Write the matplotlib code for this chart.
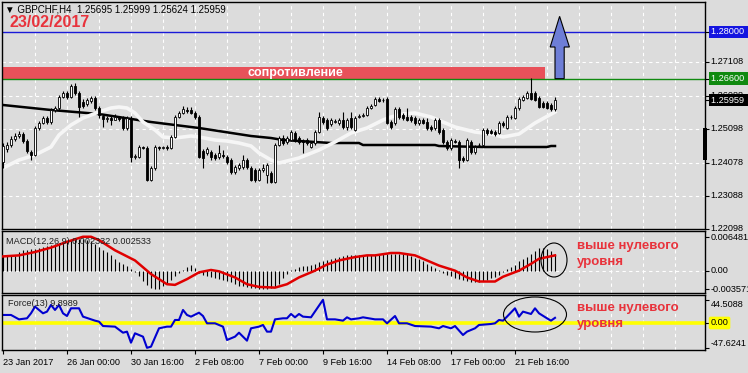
import matplotlib
matplotlib.use("Agg")
import matplotlib.pyplot as plt
from matplotlib.patches import Rectangle, Ellipse, Polygon
import numpy as np

plt.rcParams['font.family'] = ['Liberation Sans', 'DejaVu Sans']

W, H = 748, 373
BG = "#dcdcdc"
RED = "#e8333c"

# ---------------- data ----------------
opens = [1.2410, 1.2449, 1.2461, 1.2479, 1.2488, 1.2494, 1.2473, 1.2440, 1.2431, 1.2512,
         1.2527, 1.2542, 1.2530, 1.2566, 1.2572, 1.2605, 1.2617, 1.2605, 1.2638, 1.2617,
         1.2590, 1.2584, 1.2593, 1.2602, 1.2572, 1.2548, 1.2539, 1.2542, 1.2536, 1.2545,
         1.2542, 1.2512, 1.2542, 1.2425, 1.2425, 1.2455, 1.2452, 1.2356, 1.2392, 1.2455,
         1.2452, 1.2455, 1.2452, 1.2485, 1.2545, 1.2557, 1.2566, 1.2566, 1.2557, 1.2545,
         1.2443, 1.2437, 1.2440, 1.2431, 1.2425, 1.2431, 1.2425, 1.2416, 1.2380, 1.2392,
         1.2395, 1.2416, 1.2392, 1.2386, 1.2356, 1.2386, 1.2371, 1.2377, 1.2350, 1.2461,
         1.2482, 1.2470, 1.2476, 1.2497, 1.2482, 1.2473, 1.2476, 1.2455, 1.2467, 1.2500,
         1.2542, 1.2536, 1.2524, 1.2530, 1.2527, 1.2536, 1.2515, 1.2542, 1.2506, 1.2545,
         1.2548, 1.2551, 1.2572, 1.2581, 1.2599, 1.2596, 1.2599, 1.2530, 1.2527, 1.2569,
         1.2551, 1.2545, 1.2545, 1.2542, 1.2527, 1.2536, 1.2530, 1.2515, 1.2512, 1.2536,
         1.2506, 1.2470, 1.2452, 1.2473, 1.2470, 1.2422, 1.2416, 1.2470, 1.2440, 1.2461,
         1.2461, 1.2506, 1.2503, 1.2500, 1.2497, 1.2527, 1.2512, 1.2545, 1.2542, 1.2572,
         1.2596, 1.2602, 1.2617, 1.2617, 1.2602, 1.2587, 1.2587, 1.2581, 1.2569]
highs = [1.2467, 1.2470, 1.2488, 1.2497, 1.2503, 1.2500, 1.2479, 1.2446, 1.2518, 1.2533,
         1.2548, 1.2548, 1.2572, 1.2578, 1.2611, 1.2623, 1.2623, 1.2644, 1.2647, 1.2623,
         1.2599, 1.2602, 1.2608, 1.2608, 1.2578, 1.2554, 1.2548, 1.2551, 1.2554, 1.2548,
         1.2548, 1.2548, 1.2548, 1.2434, 1.2461, 1.2458, 1.2458, 1.2398, 1.2461, 1.2458,
         1.2458, 1.2461, 1.2491, 1.2551, 1.2563, 1.2578, 1.2575, 1.2575, 1.2563, 1.2551,
         1.2449, 1.2455, 1.2446, 1.2437, 1.2461, 1.2446, 1.2431, 1.2422, 1.2401, 1.2407,
         1.2431, 1.2422, 1.2398, 1.2392, 1.2392, 1.2404, 1.2407, 1.2383, 1.2467, 1.2488,
         1.2491, 1.2488, 1.2506, 1.2503, 1.2488, 1.2479, 1.2482, 1.2473, 1.2506, 1.2560,
         1.2548, 1.2542, 1.2542, 1.2539, 1.2542, 1.2560, 1.2542, 1.2560, 1.2548, 1.2554,
         1.2557, 1.2578, 1.2584, 1.2605, 1.2605, 1.2602, 1.2605, 1.2536, 1.2575, 1.2575,
         1.2557, 1.2572, 1.2551, 1.2548, 1.2542, 1.2542, 1.2542, 1.2521, 1.2542, 1.2542,
         1.2512, 1.2476, 1.2482, 1.2479, 1.2476, 1.2428, 1.2482, 1.2476, 1.2461, 1.2467,
         1.2512, 1.2512, 1.2509, 1.2506, 1.2533, 1.2533, 1.2551, 1.2551, 1.2578, 1.2605,
         1.2611, 1.2623, 1.2662, 1.2623, 1.2608, 1.2593, 1.2593, 1.2587, 1.2605]
lows = [1.2392, 1.2440, 1.2455, 1.2473, 1.2482, 1.2467, 1.2437, 1.2416, 1.2428, 1.2506,
        1.2524, 1.2524, 1.2524, 1.2560, 1.2566, 1.2602, 1.2599, 1.2602, 1.2611, 1.2545,
        1.2572, 1.2578, 1.2587, 1.2566, 1.2542, 1.2515, 1.2530, 1.2521, 1.2536, 1.2533,
        1.2506, 1.2506, 1.2410, 1.2419, 1.2422, 1.2449, 1.2353, 1.2353, 1.2386, 1.2446,
        1.2449, 1.2446, 1.2449, 1.2482, 1.2542, 1.2554, 1.2557, 1.2554, 1.2539, 1.2422,
        1.2392, 1.2431, 1.2416, 1.2416, 1.2419, 1.2422, 1.2404, 1.2374, 1.2374, 1.2386,
        1.2389, 1.2389, 1.2353, 1.2350, 1.2353, 1.2380, 1.2347, 1.2347, 1.2347, 1.2458,
        1.2461, 1.2464, 1.2473, 1.2470, 1.2464, 1.2437, 1.2461, 1.2452, 1.2461, 1.2497,
        1.2524, 1.2506, 1.2518, 1.2527, 1.2521, 1.2509, 1.2506, 1.2509, 1.2503, 1.2542,
        1.2545, 1.2548, 1.2569, 1.2578, 1.2590, 1.2590, 1.2524, 1.2509, 1.2521, 1.2539,
        1.2536, 1.2533, 1.2530, 1.2521, 1.2521, 1.2524, 1.2506, 1.2503, 1.2506, 1.2494,
        1.2464, 1.2446, 1.2446, 1.2467, 1.2392, 1.2410, 1.2413, 1.2434, 1.2434, 1.2455,
        1.2458, 1.2491, 1.2494, 1.2488, 1.2494, 1.2515, 1.2509, 1.2539, 1.2539, 1.2566,
        1.2593, 1.2599, 1.2596, 1.2593, 1.2572, 1.2572, 1.2569, 1.2563, 1.2563]
closes = [1.2458, 1.2461, 1.2479, 1.2488, 1.2494, 1.2473, 1.2443, 1.2431, 1.2512, 1.2527,
          1.2542, 1.2530, 1.2566, 1.2572, 1.2605, 1.2617, 1.2605, 1.2638, 1.2617, 1.2575,
          1.2578, 1.2596, 1.2602, 1.2572, 1.2551, 1.2539, 1.2542, 1.2536, 1.2545, 1.2539,
          1.2512, 1.2542, 1.2425, 1.2428, 1.2455, 1.2452, 1.2356, 1.2392, 1.2455, 1.2452,
          1.2455, 1.2452, 1.2485, 1.2545, 1.2557, 1.2569, 1.2563, 1.2557, 1.2545, 1.2425,
          1.2422, 1.2449, 1.2425, 1.2422, 1.2437, 1.2428, 1.2410, 1.2380, 1.2395, 1.2401,
          1.2416, 1.2395, 1.2356, 1.2356, 1.2386, 1.2392, 1.2401, 1.2350, 1.2461, 1.2482,
          1.2467, 1.2482, 1.2500, 1.2476, 1.2470, 1.2470, 1.2467, 1.2467, 1.2500, 1.2545,
          1.2530, 1.2512, 1.2536, 1.2533, 1.2536, 1.2515, 1.2536, 1.2515, 1.2542, 1.2548,
          1.2551, 1.2572, 1.2578, 1.2599, 1.2593, 1.2596, 1.2527, 1.2515, 1.2569, 1.2545,
          1.2542, 1.2536, 1.2536, 1.2527, 1.2536, 1.2527, 1.2512, 1.2509, 1.2536, 1.2500,
          1.2470, 1.2452, 1.2476, 1.2470, 1.2416, 1.2416, 1.2476, 1.2440, 1.2455, 1.2461,
          1.2506, 1.2497, 1.2497, 1.2494, 1.2527, 1.2521, 1.2545, 1.2545, 1.2572, 1.2599,
          1.2605, 1.2617, 1.2599, 1.2596, 1.2575, 1.2575, 1.2572, 1.2569, 1.25959]

fast_ma_bars = [0, 4, 8, 12, 14, 17, 20, 24, 27, 29, 31, 33, 35, 38, 40, 43, 47, 49, 53, 56,
                59, 62, 64, 67, 69, 74, 79, 83, 87, 91, 95, 97, 100, 103, 107, 110, 113, 118,
                122, 125, 129, 133, 138]
fast_ma = [1.2392, 1.2416, 1.2431, 1.2455, 1.2491, 1.2521, 1.2542, 1.2560, 1.2572, 1.2575,
           1.2572, 1.2557, 1.2530, 1.2506, 1.2485, 1.2482, 1.2488, 1.2485, 1.2476, 1.2473,
           1.2467, 1.2458, 1.2437, 1.2416, 1.2407, 1.2422, 1.2446, 1.2470, 1.2497, 1.2512,
           1.2536, 1.2545, 1.2554, 1.2557, 1.2545, 1.2530, 1.2515, 1.2500, 1.2494, 1.2485,
           1.2494, 1.2527, 1.2560]
slow_ma_bars = [0, 12, 24, 37, 49, 62, 67, 70, 82, 89, 90, 108, 109, 120, 136, 137, 138]
slow_ma = [1.2581, 1.2566, 1.2554, 1.2530, 1.2512, 1.2488, 1.2482, 1.2476, 1.2467, 1.2467,
           1.2461, 1.2461, 1.2458, 1.2455, 1.2455, 1.2458, 1.2458]

macd_main = [0.00275, 0.00275, 0.00282, 0.00282, 0.00360, 0.00393, 0.00406, 0.00413, 0.00426, 0.00445,
             0.00459, 0.00478, 0.00491, 0.00511, 0.00537, 0.00557, 0.00576, 0.00596, 0.00609, 0.00616,
             0.00609, 0.00596, 0.00576, 0.00524, 0.00459, 0.00406, 0.00354, 0.00295, 0.00223, 0.00170,
             0.00131, 0.00092, 0.00033, -0.00033, -0.00111, -0.00197, -0.00275, -0.00328, -0.00354, -0.00347,
             -0.00301, -0.00262, -0.00183, -0.00105, -0.00046, 0.00020, 0.00066, 0.00111, 0.00052, -0.00046,
             -0.00079, -0.00098, -0.00118, -0.00138, -0.00164, -0.00183, -0.00197, -0.00223, -0.00249, -0.00288,
             -0.00301, -0.00314, -0.00328, -0.00334, -0.00347, -0.00360, -0.00360, -0.00341, -0.00308, -0.00249,
             -0.00144, -0.00059, 0.00013, 0.00039, 0.00066, 0.00085, 0.00098, 0.00118, 0.00138, 0.00164,
             0.00183, 0.00203, 0.00223, 0.00236, 0.00255, 0.00275, 0.00295, 0.00295, 0.00295, 0.00295,
             0.00295, 0.00295, 0.00295, 0.00295, 0.00308, 0.00321, 0.00328, 0.00328, 0.00328, 0.00328,
             0.00328, 0.00328, 0.00288, 0.00249, 0.00216, 0.00177, 0.00138, 0.00098, 0.00059, 0.00007,
             -0.00052, -0.00085, -0.00111, -0.00138, -0.00164, -0.00177, -0.00197, -0.00216, -0.00223, -0.00210,
             -0.00197, -0.00177, -0.00151, -0.00124, -0.00085, -0.00033, 0.00026, 0.00066, 0.00111, 0.00177,
             0.00216, 0.00269, 0.00328, 0.00373, 0.00439, 0.00445, 0.00426, 0.00380, 0.00328]
signal_bars = [0, 4, 8, 12, 16, 20, 22, 24, 28, 33, 37, 41, 43, 46, 49, 52, 54, 58, 61, 64,
               68, 71, 74, 78, 81, 84, 88, 91, 93, 97, 99, 103, 106, 109, 113, 116, 119, 123,
               125, 129, 132, 134, 138]
signal = [0.00275, 0.00295, 0.00360, 0.00445, 0.00557, 0.00655, 0.00655, 0.00590, 0.00393, 0.00197,
          -0.00066, -0.00262, -0.00275, -0.00164, -0.00033, 0.00013, -0.00013, -0.00131, -0.00262, -0.00314,
          -0.00328, -0.00262, -0.00131, 0.0, 0.00118, 0.00197, 0.00262, 0.00295, 0.00295, 0.00341,
          0.00341, 0.00295, 0.00197, 0.00098, 0.0, -0.00131, -0.00210, -0.00210, -0.00118, 0.0,
          0.00131, 0.00229, 0.00295]

force_bars = [0, 2, 4, 6, 7, 8, 10, 11, 12, 13, 14, 15, 16, 17, 19, 20, 23, 24, 25, 28,
              30, 31, 32, 33, 35, 36, 37, 39, 41, 42, 43, 44, 45, 46, 47, 49, 50, 51, 53, 55,
              56, 58, 59, 61, 62, 64, 65, 66, 67, 68, 70, 71, 72, 73, 74, 75, 77, 80, 81, 83,
              85, 86, 87, 89, 90, 93, 95, 96, 98, 99, 101, 103, 107, 109, 110, 112, 113, 115, 116, 118,
              119, 122, 123, 124, 125, 126, 128, 129, 130, 132, 133, 134, 136, 137, 138]
force = [15.4, 15.4, 7.0, 9.0, 18.6, 31.4, 18.6, 21.8, 34.6, 25.0, 34.6, 18.6, 13.4, 28.2, 28.2, 12.2, 4.5, 2.6, -5.8, -7.0,
         -18.6, -16.6, -37.8, -19.8, -26.2, -47.6, -45.4, -10.2, -7.0, -7.0, 5.8, 5.8, 25.0, 15.4, 12.2, 19.8, 13.4, -0.6, -0.6, -7.0,
         -32.6, -26.2, -18.6, -33.9, -10.2, -7.0, -3.8, -16.6, -16.6, 7.0, 9.0, 9.0, 17.3, 10.9, 17.3, 12.2, 10.9, 44.5, 7.0, 7.0,
         4.5, 10.9, 7.0, 9.0, 10.9, 7.0, 7.0, -0.6, 13.4, -0.6, -0.6, -5.8, -7.0, -10.2, -5.8, -10.2, -5.8, -23.0, -16.6, -10.2,
         -3.8, -1.9, -0.6, 5.8, 4.5, 12.2, 28.2, 12.2, 21.8, 17.3, 28.2, 18.6, 9.0, 4.5, 9.9]

date_labels = ["23 Jan 2017", "26 Jan 00:00", "30 Jan 16:00", "2 Feb 08:00", "7 Feb 00:00",
               "9 Feb 16:00", "14 Feb 08:00", "17 Feb 00:00", "21 Feb 16:00"]
date_label_bars = [0, 16, 32, 48, 64, 80, 96, 112, 128]

price_ticks = [1.27108, 1.26088, 1.25098, 1.24078, 1.23088, 1.22098]
target_level = 1.28000
resistance_level = 1.26600
resistance_top = 1.2695
last_price = 1.25959

macd_ticks = [0.006481, 0.0, -0.003571]
force_ticks = [44.5088, 0.0, -47.6241]

# ---------------- layout ----------------
fig = plt.figure(figsize=(W / 100, H / 100), dpi=100)
fig.patch.set_facecolor(BG)


def frac(x0, y0, x1, y1):
    return [x0 / W, 1 - y1 / H, (x1 - x0) / W, (y1 - y0) / H]


ax = fig.add_axes(frac(2, 2, 705, 229))
axm = fig.add_axes(frac(2, 231, 705, 293), sharex=ax)
axf = fig.add_axes(frac(2, 295, 705, 350), sharex=ax)

n = len(closes)
idx = np.arange(n)
for a in (ax, axm, axf):
    a.set_facecolor(BG)
    for s in a.spines.values():
        s.set_color("black")
        s.set_linewidth(1.0)
    for gx in range(8, 176, 8):
        a.axvline(gx, color="white", lw=0.8, ls=(0, (3, 3)), zorder=0.5)
    a.tick_params(axis="y", which="both", right=True, left=False, labelleft=False,
                  labelright=False, length=3, width=0.8, direction="out")
    a.yaxis.set_ticks_position("right")

ax.set_xlim(-0.25, 175.5)
ax.set_ylim(1.2209, 1.2890)

# horizontal grid
for p in price_ticks:
    ax.axhline(p, color="white", lw=0.8, ls=(0, (3, 3)), zorder=0.5)

# resistance zone
ax.add_patch(Rectangle((-0.25, resistance_level), 135.75, resistance_top - resistance_level,
                       facecolor="#e8515a", edgecolor="none", zorder=1.5))
ax.text(73, (resistance_level + resistance_top) / 2, "сопротивление", color="white",
        fontsize=9, fontweight="bold", ha="center", va="center", zorder=2)

ax.axhline(target_level, color="#1a1ad8", lw=1.0, zorder=1.6)
ax.axhline(resistance_level, color="#108a10", lw=1.0, zorder=1.6)

# moving averages
ax.plot(slow_ma_bars, slow_ma, color="black", lw=1.8, zorder=2)
ax.plot(fast_ma_bars, fast_ma, color="#f6f6f6", lw=2.6, zorder=2)

# candles
o = np.array(opens); c = np.array(closes); hi = np.array(highs); lo = np.array(lows)
up = c >= o
ax.vlines(idx, lo, hi, color="black", lw=0.8, zorder=3)
body_lo = np.minimum(o, c)
body_h = np.maximum(np.abs(c - o), 0.00005)
ax.bar(idx[up], body_h[up], bottom=body_lo[up], width=0.62, color="white",
       edgecolor="black", linewidth=0.6, zorder=4)
ax.bar(idx[~up], body_h[~up], bottom=body_lo[~up], width=0.62, color="black",
       edgecolor="black", linewidth=0.6, zorder=4)

# arrow
arrow = Polygon([(138.0, resistance_level), (140.3, resistance_level), (140.3, 1.2755),
                 (141.6, 1.2755), (139.15, 1.2847), (136.8, 1.2755), (138.0, 1.2755)],
                closed=True, facecolor="#6e7ed6", edgecolor="black", lw=0.8, zorder=5)
ax.add_patch(arrow)

FS = 6.6


def rlabel(a, val, s, va="center", fc=None, color="black", style="square,pad=0.2"):
    kw = {}
    if fc:
        kw["bbox"] = dict(boxstyle=style, fc=fc, ec="none")
    a.text(1.008, val, s, transform=a.get_yaxis_transform(), ha="left", va=va,
           fontsize=FS, color=color, clip_on=False, zorder=10, **kw)


ax.set_yticks(price_ticks + [target_level, resistance_level, last_price])
ax.set_yticklabels([])
for p in price_ticks:
    rlabel(ax, p, f"{p:.5f}")
rlabel(ax, target_level, "1.28000 ", fc="#1414e0", color="white")
rlabel(ax, resistance_level, "1.26600 ", fc="#108a10", color="white")
rlabel(ax, last_price, "1.25959 ", fc="black", color="white")
# black marker on the price scale
fig.add_artist(Rectangle((703 / W, 1 - 160 / H), 4 / W, 32 / H, transform=fig.transFigure,
                         facecolor="black", edgecolor="none", zorder=20))

# MACD
axm.set_ylim(-0.00432, 0.00766)
axm.axhline(0, color="white", lw=0.8, ls=(0, (3, 3)), zorder=0.5)
axm.vlines(idx, 0, macd_main, color="black", lw=0.8, zorder=2)
axm.plot(signal_bars, signal, color="#e00000", lw=1.8, zorder=3)
axm.set_yticks(macd_ticks)
axm.set_yticklabels([])
rlabel(axm, macd_ticks[0], "0.006481")
rlabel(axm, macd_ticks[1], "0.00")
rlabel(axm, macd_ticks[2], "-0.003571")

# Force
axf.set_ylim(-51.8, 53.7)
axf.axhline(0, color="#ffff00", lw=2.6, zorder=1)
axf.plot(force_bars, force, color="#0000d0", lw=1.5, zorder=2)
axf.set_yticks(force_ticks)
axf.set_yticklabels([])
rlabel(axf, force_ticks[0], "44.5088", va="top")
rlabel(axf, force_ticks[1], "0.00", fc="#ffff00", style="round,pad=0.2")
rlabel(axf, force_ticks[2], "-47.6241", va="bottom")

# x axis
ax.tick_params(axis="x", bottom=False, labelbottom=False)
axm.tick_params(axis="x", bottom=False, labelbottom=False)
axf.set_xticks(date_label_bars)
axf.set_xticklabels(date_labels, fontsize=FS, ha="left")
axf.tick_params(axis="x", length=3, width=0.8, pad=3, direction="out")

# texts
fig.text(5 / W, 1 - 9.5 / H, "▼ GBPCHF,H4  1.25695 1.25999 1.25624 1.25959",
         fontsize=7, va="center", ha="left", color="black")
fig.text(9 / W, 1 - 22.5 / H, "23/02/2017", fontsize=11.5, fontweight="bold",
         color=RED, va="center", ha="left")
fig.text(6 / W, 1 - 241 / H, "MACD(12,26,9) 0.002332 0.002533", fontsize=6.6,
         va="center", ha="left", color="#202020", zorder=30)
fig.text(8 / W, 1 - 304 / H, "Force(13) 9.8989", fontsize=6.6, va="center", ha="left",
         color="#202020", zorder=30)

for yy, s in [(246, "выше нулевого"), (262.5, "уровня"), (308, "выше нулевого"), (324.5, "уровня")]:
    fig.text(577 / W, 1 - yy / H, s, fontsize=9.5, fontweight="bold",
             color=RED, va="center", ha="left")

fig.add_artist(Ellipse((554 / W, 1 - 260 / H), 26 / W, 34 / H, transform=fig.transFigure,
                       fill=False, edgecolor="black", lw=0.8, zorder=25))
fig.add_artist(Ellipse((535 / W, 1 - 314.5 / H), 63 / W, 35 / H, transform=fig.transFigure,
                       fill=False, edgecolor="black", lw=0.8, zorder=25))

fig.savefig("out.png", dpi=100, facecolor=BG)
